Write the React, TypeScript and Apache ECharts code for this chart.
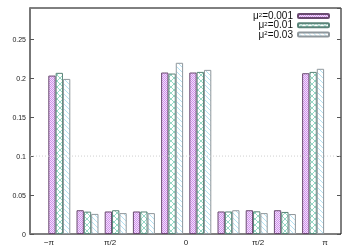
import React, { useEffect, useRef } from "react";
import * as echarts from "echarts";

const categories = ["1", "2", "3", "4", "5", "6", "7", "8", "9", "10"];
const seriesNames = ["μ²=0.001", "μ²=0.01", "μ²=0.03"];
const legendValues = ["=0.001", "=0.01", "=0.03"];
const mu001 = [0.2033, 0.0305, 0.0289, 0.0289, 0.2072, 0.2072, 0.0289, 0.0305, 0.0305, 0.2063];
const mu01 = [0.2068, 0.0287, 0.0305, 0.0289, 0.2059, 0.208, 0.0289, 0.0291, 0.0283, 0.208];
const mu03 = [0.199, 0.0258, 0.0268, 0.0268, 0.2197, 0.2106, 0.0305, 0.0268, 0.0256, 0.212];
// tick label positions in units of bar-group slots (0 = left edge of first slot)
const xTickPositions = [0.12, 2.3, 5, 7.55, 9.92];
const xTickLabels = ["−π", "π/2", "0", "π/2", "π"];
const yMax = 0.29;
const yStep = 0.05;
const refLine = 0.1;

function makePattern(kind: string) {
  const c = document.createElement("canvas");
  if (kind === "check") {
    c.width = 2; c.height = 2;
    const g = c.getContext("2d")!;
    g.fillStyle = "#f4e0fb"; g.fillRect(0, 0, 2, 2);
    g.fillStyle = "#cf92ec"; g.fillRect(0, 0, 1, 1); g.fillRect(1, 1, 1, 1);
  } else if (kind === "cross") {
    c.width = 6; c.height = 6;
    const g = c.getContext("2d")!;
    g.fillStyle = "#ffffff"; g.fillRect(0, 0, 6, 6);
    g.fillStyle = "#96d9c6";
    for (let i = 0; i < 6; i++) { g.fillRect(i, i, 1, 1); g.fillRect(5 - i, i, 1, 1); }
  } else {
    c.width = 5; c.height = 5;
    const g = c.getContext("2d")!;
    g.fillStyle = "#ffffff"; g.fillRect(0, 0, 5, 5);
    g.fillStyle = "#b4e2f4";
    for (let i = 0; i < 5; i++) { g.fillRect(i, i, 1, 1); }
  }
  return { image: c, repeat: "repeat" };
}

export default function App() {
  const ref = useRef<HTMLDivElement>(null);
  useEffect(() => {
    const chart = echarts.init(ref.current!, null, { renderer: "svg" });
    const pats = [makePattern("check"), makePattern("cross"), makePattern("diag")];
    const borders = ["#6a4a70", "#5a8478", "#8f979c"];
    const datas = [mu001, mu01, mu03];
    const font = "Liberation Sans, Arial, sans-serif";
    const legendTops = [10.5, 19.8, 29.1];
    // frame grid: 30..341 px; bar grid: 45.2..327.2 px (group slot = 28.2 px)
    const frameLeft = 30, frameW = 311, barLeft = 45.2, slot = 28.2;
    const fine = Array.from({ length: frameW + 1 }, (_, k) => String(k));
    const labelIdx = xTickPositions.map((p) => Math.round(barLeft + slot * p - frameLeft));
    chart.setOption({
      animation: false,
      grid: [
        { left: frameLeft, top: 8, width: frameW, height: 226, show: true, borderColor: "#000", borderWidth: 1, backgroundColor: "transparent" },
        { left: barLeft, top: 8, width: slot * 10, height: 226 },
      ],
      xAxis: [
        {
          type: "category", gridIndex: 0, data: fine, boundaryGap: false, position: "bottom",
          axisLine: { show: false }, axisTick: { show: false }, splitLine: { show: false },
          axisLabel: {
            show: true,
            interval: (i: number) => labelIdx.indexOf(i) >= 0,
            fontSize: 8, color: "#222", fontFamily: font, margin: 4,
            formatter: (_v: string, i: number) => {
              const k = labelIdx.indexOf(i);
              return k >= 0 ? xTickLabels[k] : "";
            },
          },
        },
        {
          type: "category", gridIndex: 1, data: categories,
          axisLine: { show: false }, axisTick: { show: false }, axisLabel: { show: false },
        },
      ],
      yAxis: [
        {
          type: "value", gridIndex: 0, min: 0, max: yMax, interval: yStep,
          axisLine: { show: true, lineStyle: { color: "#777", width: 2 } },
          axisTick: { show: true, inside: true, length: 4, lineStyle: { color: "#555" } },
          splitLine: { show: false },
          axisLabel: {
            fontSize: 7, color: "#222", fontFamily: font, margin: 4, showMaxLabel: false,
            formatter: (v: number) => (v === 0 ? "0" : String(+v.toFixed(2))),
          },
        },
        {
          type: "value", gridIndex: 0, min: 0, max: yMax, interval: yStep, position: "right",
          axisLine: { show: false }, axisTick: { show: true, inside: true, length: 4, lineStyle: { color: "#555" } },
          axisLabel: { show: false }, splitLine: { show: false },
        },
        { type: "value", gridIndex: 1, min: 0, max: yMax, show: false },
      ],
      legend: seriesNames.map((n, i) => ({
        data: [n],
        orient: "vertical",
        right: 24,
        top: legendTops[i],
        align: "right",
        itemWidth: 31,
        itemHeight: 4,
        padding: 0,
        selectedMode: false,
        formatter: () => `{s|μ}{t|2}{b|${legendValues[i]}}`,
        textStyle: {
          fontFamily: font,
          rich: {
            s: { fontSize: 10, fontFamily: font, color: "#111", lineHeight: 9, verticalAlign: "bottom" },
            t: { fontSize: 6, fontFamily: font, color: "#111", lineHeight: 9, verticalAlign: "top" },
            b: { fontSize: 10, fontFamily: font, color: "#111", lineHeight: 9, verticalAlign: "bottom" },
          },
        },
      })),
      series: [
        {
          type: "line", xAxisIndex: 0, yAxisIndex: 0, data: [[0, refLine], [frameW, refLine]],
          symbol: "none", lineStyle: { color: "#cfcfcf", width: 1, type: [1, 2] }, silent: true,
        },
        ...seriesNames.map((n, i) => ({
          name: n, type: "bar", xAxisIndex: 1, yAxisIndex: 2, data: datas[i],
          barGap: "0%", barCategoryGap: "22%",
          itemStyle: { color: pats[i], borderColor: borders[i], borderWidth: 1 },
        })),
      ],
    });
    return () => chart.dispose();
  }, []);
  return <div ref={ref} style={{ position: "fixed", left: 0, top: 0, width: 354, height: 248 }} />;
}
